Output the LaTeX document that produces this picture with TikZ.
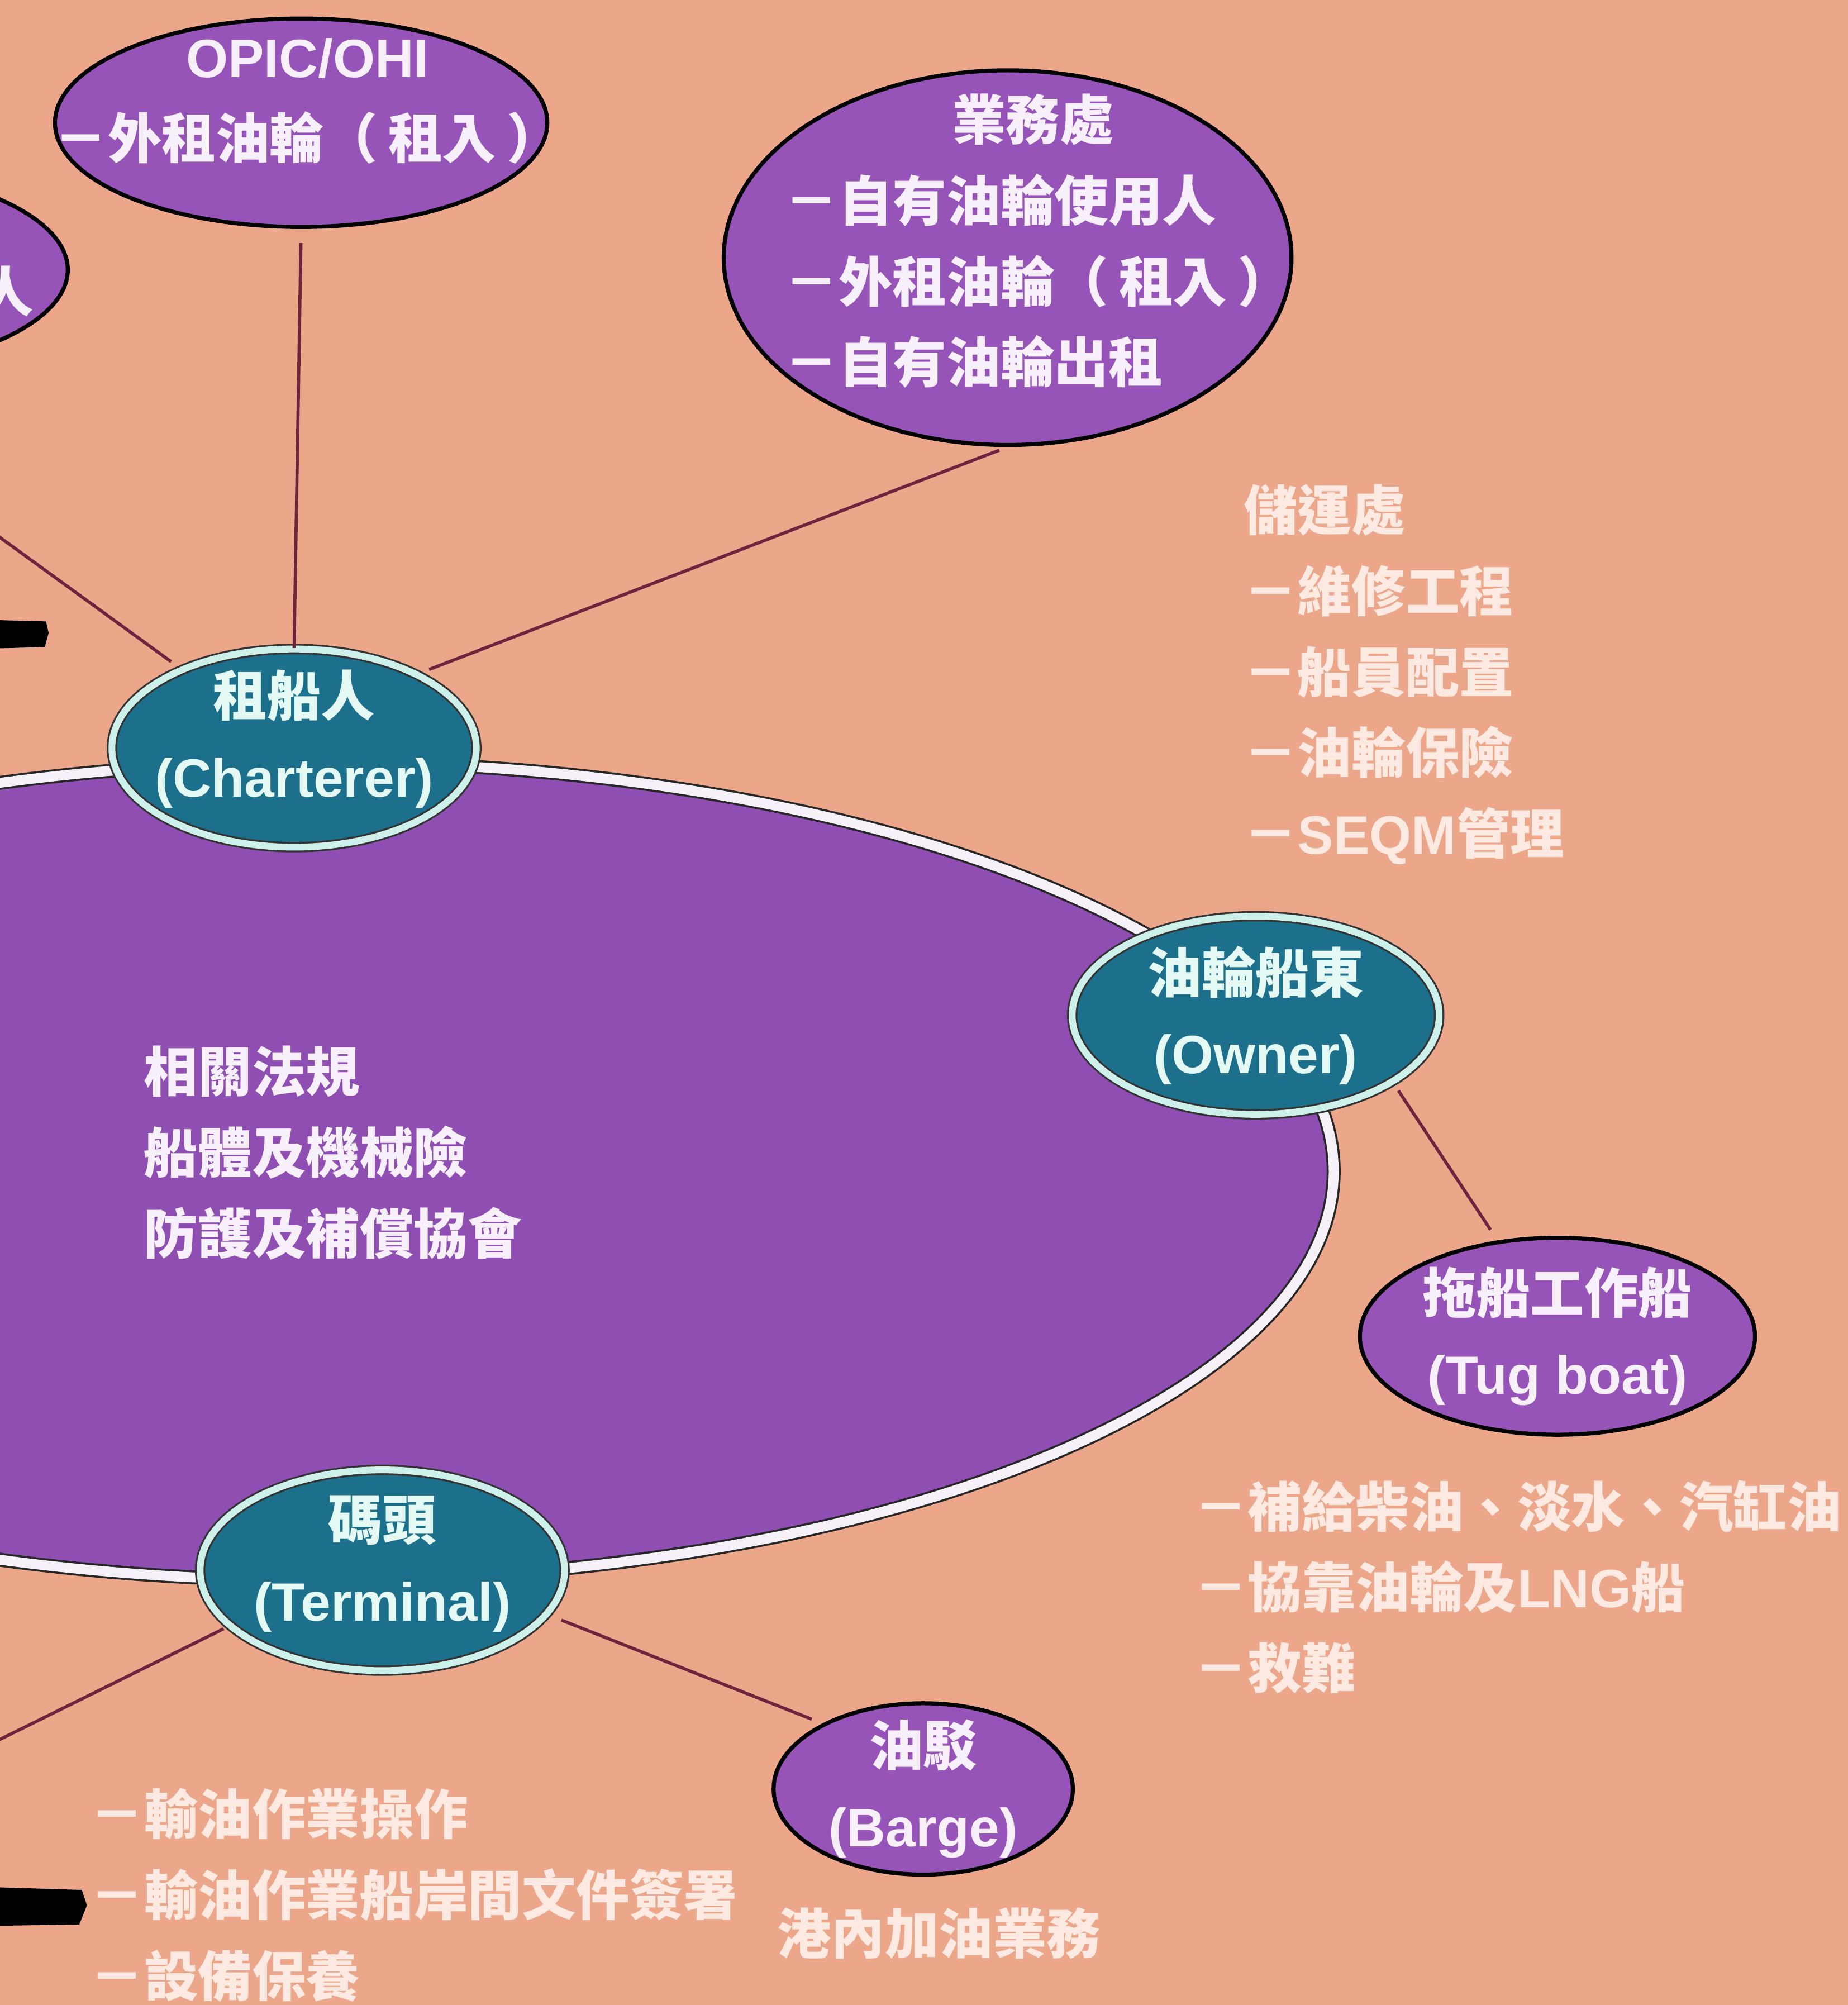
\documentclass[tikz,border=0pt]{standalone}
\usepackage{fontspec}
\setmainfont{Noto Sans CJK TC}
\newfontfamily\engfont{Liberation Sans}
\usetikzlibrary{shapes.geometric}

\definecolor{peach}{RGB}{236,167,139}
\definecolor{bigpurple}{RGB}{142,78,178}
\definecolor{nodepurple}{RGB}{150,84,184}
\definecolor{tealfill}{RGB}{28,112,140}
\definecolor{tealrim}{RGB}{205,240,235}
\definecolor{wire}{RGB}{110,36,60}
\definecolor{paletext}{RGB}{252,234,226}
\definecolor{tealtext}{RGB}{228,248,244}
\definecolor{lilactext}{RGB}{247,240,250}

\newcommand{\lpar}{（\hspace{0.2em}}
\newcommand{\rpar}{\hspace{0.2em}）}

\tikzset{
  rulesring/.style={ellipse, fill=bigpurple, draw=black!85, line width=0.45pt,
    double=white!92!bigpurple, double distance=2.2pt, inner sep=0pt},
  party/.style={ellipse, fill=tealfill, draw=black!80, line width=0.4pt,
    double=tealrim, double distance=1.5pt, inner sep=0pt},
  agent/.style={ellipse, fill=nodepurple, draw=black, line width=0.9pt, inner sep=0pt},
  tag/.style={font=\bfseries\fontsize{12}{18}\selectfont, align=center,
    text=lilactext, inner sep=0pt},
  tealtag/.style={tag, text=tealtext},
  note/.style={font=\bfseries\fontsize{12}{18}\selectfont, align=left,
    anchor=west, text=paletext, inner sep=0pt},
  wire/.style={draw=wire, line width=0.7pt},
}

\begin{document}
\begin{tikzpicture}[x=1cm,y=-1cm]
    \useasboundingbox (0,0) rectangle (14.45,15.68);
    \fill[peach] (0,0) rectangle (14.45,15.68);

    \node[rulesring, minimum width=15.86cm, minimum height=6.40cm] (rules) at (2.50,9.16) {};
    \node[tag, anchor=west, align=left] (laws) at (1.12,9.015) {相關法規\\船體及機械險\\防護及補償協會};

    \node[party, minimum width=2.85cm, minimum height=1.55cm] (charterer) at (2.30,5.85) {};
    \node[party, minimum width=2.87cm, minimum height=1.55cm] (owner) at (9.82,7.94) {};
    \node[party, minimum width=2.85cm, minimum height=1.57cm] (terminal) at (2.99,12.28) {};
    \node[tealtag, yshift=0.7mm] (chartertext) at (charterer) {租船人\\{\engfont (Charterer)}};
    \node[tealtag] (ownertext) at (owner) {油輪船東\\{\engfont (Owner)}};
    \node[tealtag, yshift=0.5mm] (terminaltext) at (terminal) {碼頭\\{\engfont (Terminal)}};

    \node[agent, minimum width=4.04cm, minimum height=1.63cm] (leftcut) at (-1.49,2.11) {};
    \node[agent, minimum width=3.85cm, minimum height=1.63cm] (opic) at (2.355,0.96) {};
    \node[agent, minimum width=4.44cm, minimum height=2.93cm] (sales) at (7.88,2.015) {};
    \node[agent, minimum width=3.09cm, minimum height=1.54cm] (tugboat) at (12.18,10.45) {};
    \node[agent, minimum width=2.34cm, minimum height=1.34cm] (barge) at (7.22,13.99) {};
    \node[tag] (leftcuttext) at (0.05,2.28) {人};
    \node[tag, xshift=0.5mm, yshift=1.7mm] (opictext) at (opic) {{\engfont OPIC/OHI}\\－外租油輪\lpar 租入\rpar};
    \node[tag, align=left, xshift=2.4mm, yshift=1.3mm] (salestext) at (sales)
      {\hspace*{3.1em}業務處\\－自有油輪使用人\\－外租油輪\lpar 租入\rpar\\－自有油輪出租};
    \node[tag] (tugtext) at (tugboat) {拖船工作船\\{\engfont (Tug boat)}};
    \node[tag] (bargetext) at (barge) {油駁\\{\engfont (Barge)}};

    \node[note] (storage) at (9.72,5.275) {儲運處\\－維修工程\\－船員配置\\－油輪保險\\－{\engfont SEQM}管理};
    \node[note] (tugnotes) at (9.33,12.41) {－補給柴油、淡水、汽缸油\\－協靠油輪及{\engfont LNG}船\\－救難};
    \node[note] (terminalnotes) at (0.70,14.82) {－輸油作業操作\\－輸油作業船岸間文件簽署\\－設備保養};
    \node[note] (bargenote) at (6.07,15.12) {港內加油業務};

    \coordinate (leftfar) at (-0.5,3.84);
    \coordinate (leftlow) at (-0.5,13.85);
    \draw[wire, shorten <=1.1mm] (opic.south) -- (charterer.north);
    \draw[wire, shorten <=0.7mm, shorten >=1mm] (sales.south) -- (charterer.31);
    \draw[wire, shorten >=1mm] (leftfar) -- (charterer.145);
    \draw[wire, shorten <=0.8mm, shorten >=1mm] (owner.-26) -- (tugboat.122);
    \draw[wire, shorten <=1.2mm, shorten >=0.9mm] (terminal.-15) -- (barge.147);
    \draw[wire, shorten <=0.5mm] (terminal.200) -- (leftlow);

    \fill[black] (0,4.85) -- (0.36,4.86) -- (0.38,4.95) -- (0.35,5.06) -- (0,5.07) -- cycle;
    \fill[black] (0,14.76) -- (0.64,14.78) -- (0.68,14.90) -- (0.62,15.05) -- (0,15.06) -- cycle;
\end{tikzpicture}
\end{document}
